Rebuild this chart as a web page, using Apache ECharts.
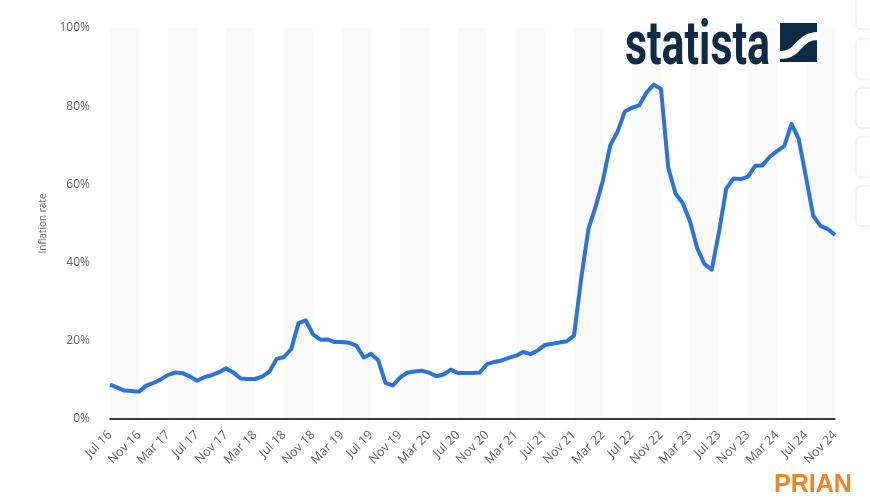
<!DOCTYPE html>
<html><head><meta charset="utf-8">
<script src="https://cdn.jsdelivr.net/npm/echarts@6/dist/echarts.min.js"></script>
<style>html,body{margin:0;padding:0;background:#fff}#c{width:870px;height:500px}</style>
</head><body><div id="c"></div>
<script>
const months = (function(){
  const names=['Jan','Feb','Mar','Apr','May','Jun','Jul','Aug','Sep','Oct','Nov','Dec'];
  const out=[]; let y=16, m=6;
  for(let i=0;i<101;i++){ out.push(names[m]+' '+y); m++; if(m===12){m=0;y++;} }
  return out;
})();
const y2016 = [8.79, 8.05, 7.28, 7.16, 7.00, 8.53];
const y2017 = [9.22, 10.13, 11.29, 11.87, 11.72, 10.90, 9.79, 10.68, 11.20, 11.90, 12.98, 11.92];
const y2018 = [10.35, 10.26, 10.23, 10.85, 12.15, 15.39, 15.85, 17.90, 24.52, 25.24, 21.62, 20.30];
const y2019 = [20.35, 19.67, 19.71, 19.50, 18.71, 15.72, 16.65, 15.01, 9.26, 8.55, 10.56, 11.84];
const y2020 = [12.15, 12.37, 11.86, 10.94, 11.39, 12.62, 11.76, 11.77, 11.75, 11.89, 14.03, 14.60];
const y2021 = [14.97, 15.61, 16.19, 17.14, 16.59, 17.53, 18.95, 19.25, 19.58, 19.89, 21.31, 36.08];
const y2022 = [48.69, 54.44, 61.14, 69.97, 73.50, 78.62, 79.60, 80.21, 83.45, 85.51, 84.39, 64.27];
const y2023 = [57.68, 55.18, 50.51, 43.68, 39.59, 38.21, 47.83, 58.94, 61.53, 61.36, 61.98, 64.77];
const y2024 = [64.86, 67.07, 68.50, 69.80, 75.45, 71.60, 61.78, 51.97, 49.38, 48.58, 47.09];
const values = [].concat(y2016,y2017,y2018,y2019,y2020,y2021,y2022,y2023,y2024);
const yTicks = [0,20,40,60,80,100];

const logoFont = 'bold 62px Roboto, "DejaVu Sans", sans-serif';
const mc = document.createElement('canvas').getContext('2d');
mc.font = logoFont;
const logoW = mc.measureText('statista').width;
const logoScale = 145 / logoW;

const chart = echarts.init(document.getElementById('c'), null, {renderer:'canvas'});
const cards = [[0,29],[39,79],[88,128],[137,177],[186,226]];
const graphics = cards.map(c=>({
  type:'rect', shape:{x:856,y:c[0]-(c[0]===0?10:0),width:30,height:c[1]-c[0]+(c[0]===0?10:0),r:5},
  style:{fill:'#fff',stroke:'#eceef1',lineWidth:1,shadowBlur:6,shadowColor:'rgba(0,0,0,0.06)'}, z:10
}));
graphics.push(
  {type:'text', x:625, y:17, scaleX:logoScale, scaleY:1,
    style:{text:'statista', font:logoFont, fill:'#0f2a44'}, z:10},
  {type:'rect', shape:{x:780,y:23,width:37,height:39}, style:{fill:'#0f2a44'}, z:10},
  {type:'bezierCurve', shape:{x1:779,y1:55,cpx1:800,cpy1:56,cpx2:797,cpy2:36,x2:818,y2:36}, style:{stroke:'#fff',lineWidth:8,fill:null}, z:11},
  {type:'text', left:774, top:473, style:{text:'PRIAN', font:'bold 25px "Liberation Sans", Arial, sans-serif', fill:'#f08524'}, z:10}
);
chart.setOption({
  animation:false,
  grid:{left:110,right:35,top:28,bottom:81},
  xAxis:{type:'category',data:months,boundaryGap:false,
    axisLine:{lineStyle:{color:'#000',width:1.5}},
    axisTick:{show:false},
    axisLabel:{interval:3,rotate:45,color:'#666',fontSize:12.5,fontFamily:'Open Sans',margin:14},
    splitLine:{show:false},
    splitArea:{show:true,interval:3,areaStyle:{color:['#fafafa','#ffffff']}}
  },
  yAxis:{type:'value',min:yTicks[0],max:yTicks[yTicks.length-1],interval:20,
    name:'Inflation rate',nameLocation:'middle',nameGap:62,nameTextStyle:{color:'#666',fontSize:10,fontFamily:'Open Sans'},
    axisLine:{show:false},axisTick:{show:false},
    axisLabel:{formatter:'{value}%',color:'#666',fontSize:12,fontFamily:'Open Sans',margin:20},
    splitLine:{lineStyle:{color:'#cfcfcf',type:[1,2],width:1}}
  },
  series:[{type:'line',data:values,showSymbol:false,symbol:'none',
    lineStyle:{color:'#2b74d6',width:4,join:'round'}}],
  graphic:graphics
});
</script></body></html>
